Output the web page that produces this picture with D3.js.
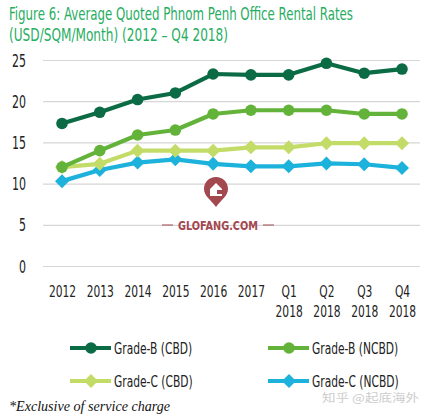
<!DOCTYPE html>
<html><head><meta charset="utf-8">
<script src="https://cdn.jsdelivr.net/npm/d3@7"></script>
<style>
body{margin:0;background:#fff;}
svg{display:block;}
</style></head>
<body>
<svg id="c" width="434" height="417"></svg>
<script>
const categories = ["2012","2013","2014","2015","2016","2017","Q1\n2018","Q2\n2018","Q3\n2018","Q4\n2018"];
const gradeBCBD  = [17.3,18.65,20.2,21.0,23.3,23.2,23.2,24.6,23.4,23.9];
const gradeBNCBD = [12.0,14.0,15.9,16.5,18.45,18.9,18.9,18.9,18.45,18.45];
const gradeCCBD  = [12.0,12.4,14.0,14.0,14.0,14.4,14.4,14.9,14.9,14.9];
const gradeCNCBD = [10.3,11.65,12.55,12.95,12.4,12.1,12.1,12.45,12.35,11.9];
const yTicks = [0,5,10,15,20,25];
const seriesNames = ["Grade-B (CBD)","Grade-B (NCBD)","Grade-C (CBD)","Grade-C (NCBD)"];

const series = [
  {name:seriesNames[0], values:gradeBCBD, color:"#0b6b45", shape:"circle"},
  {name:seriesNames[1], values:gradeBNCBD, color:"#63b33a", shape:"circle"},
  {name:seriesNames[2], values:gradeCCBD, color:"#c3dc68", shape:"diamond"},
  {name:seriesNames[3], values:gradeCNCBD, color:"#1cb2dc", shape:"diamond"}
];

const svg = d3.select("#c");
const cond = "'DejaVu Sans Condensed','Liberation Sans Narrow',sans-serif";
function squeeze(sel, f){
  sel.each(function(){
    const w = this.getComputedTextLength();
    d3.select(this).attr("textLength", w*f).attr("lengthAdjust","spacingAndGlyphs");
  });
}

// Title
const title = svg.append("text").attr("font-family",cond)
  .attr("font-size",18).attr("fill","#27ad62");
const t1 = title.append("tspan").attr("x",9).attr("y",19.5).text("Figure 6: Average Quoted Phnom Penh Office Rental Rates");
const t2 = title.append("tspan").attr("x",9).attr("y",41).text("(USD/SQM/Month) (2012 \u2013 Q4 2018)");
t1.attr("textLength",344).attr("lengthAdjust","spacingAndGlyphs");
t2.attr("textLength",219).attr("lengthAdjust","spacingAndGlyphs");

const x = d3.scalePoint().domain(categories).range([62,402]);
const y = d3.scaleLinear().domain([0,25]).range([266,60]);

// gridlines
const yAxis = d3.axisLeft(y).tickValues(yTicks).tickSize(-(420-43)).tickPadding(16);
const gy = svg.append("g").attr("transform","translate(43,0)").call(yAxis);
gy.select(".domain").remove();
gy.selectAll(".tick line").attr("stroke","#d6d6d6").attr("stroke-width",1.2);
gy.selectAll(".tick text").attr("font-family",cond).attr("font-size",17).attr("fill","#222")
  .attr("text-anchor","end").attr("x",-17).attr("dy","0.36em");
squeeze(gy.selectAll(".tick text"),0.72);

// x axis labels
const xAxis = d3.axisBottom(x).tickSize(0).tickFormat("");
const gx = svg.append("g").attr("transform","translate(0,266)").call(xAxis);
gx.select(".domain").remove();
gx.selectAll(".tick").each(function(d){
  const parts = d.split("\n");
  const t = d3.select(this).append("text").attr("font-family",cond).attr("font-size",16.5)
    .attr("fill","#222").attr("text-anchor","middle");
  parts.forEach((p,i)=>t.append("tspan").attr("x",0).attr("y",30.5+i*20).text(p));
});
squeeze(gx.selectAll("tspan"),0.72);

// watermark
const wm = svg.append("g").attr("transform","translate(216,0)");
wm.append("path").attr("d","M0,177 C-7,177 -12,182 -12,189 C-12,196 -5,200 0,207 C5,200 12,196 12,189 C12,182 7,177 0,177 Z").attr("fill","#a3484f");
wm.append("path").attr("d","M-6,189 L0,183 L6,189 L6,196 L-6,196 Z").attr("fill","#fff");
wm.append("path").attr("d","M1,190 L7,190 L7,194 L1,194 Z").attr("fill","#a3484f");
wm.append("text").attr("x",2).attr("y",230).attr("text-anchor","middle")
  .attr("font-family","'DejaVu Sans Condensed',sans-serif").attr("font-weight","bold")
  .attr("font-size",12.5).attr("fill","#a3484f").text("GLOFANG.COM")
  .attr("textLength",80).attr("lengthAdjust","spacingAndGlyphs");
wm.append("line").attr("x1",-54).attr("x2",-43).attr("y1",225).attr("y2",225).attr("stroke","#a3484f").attr("stroke-width",1);
wm.append("line").attr("x1",47).attr("x2",58).attr("y1",225).attr("y2",225).attr("stroke","#a3484f").attr("stroke-width",1);

// lines
const line = d3.line().x((d,i)=>x(categories[i])).y(d=>y(d));
const diamond = s=>`M0,${-s}L${s},0L0,${s}L${-s},0Z`;
function marker(g, shape, color, cx, cy){
  if(shape==="circle") g.append("circle").attr("cx",cx).attr("cy",cy).attr("r",5.8).attr("fill",color);
  else g.append("path").attr("d",diamond(7)).attr("transform",`translate(${cx},${cy})`).attr("fill",color);
}
[...series].reverse().forEach(s=>{
  const g = svg.append("g");
  g.append("path").datum(s.values).attr("d",line).attr("fill","none")
    .attr("stroke",s.color).attr("stroke-width",4.2).attr("stroke-linejoin","round");
  s.values.forEach((v,i)=>marker(g,s.shape,s.color,x(categories[i]),y(v)));
});

// legend
const legPos = [[70,348],[268,348],[70,381],[268,381]];
series.forEach((s,i)=>{
  const [lx,ly] = legPos[i];
  const g = svg.append("g");
  g.append("line").attr("x1",lx).attr("x2",lx+41).attr("y1",ly).attr("y2",ly)
    .attr("stroke",s.color).attr("stroke-width",4.2);
  marker(g,s.shape,s.color,lx+21,ly);
  const t = g.append("text").attr("x",lx+44).attr("y",ly+6).attr("font-family",cond)
    .attr("font-size",16.5).attr("fill","#222").text(s.name);
  squeeze(t,0.72);
});

// zhihu watermark
svg.append("text").attr("x",322).attr("y",402).attr("font-family","'Noto Sans CJK SC',sans-serif")
  .attr("font-size",11).attr("fill","#cdcdcd").text("知乎 @起底海外")
  .attr("textLength",97).attr("lengthAdjust","spacingAndGlyphs");

// footnote
svg.append("text").attr("x",9).attr("y",411).attr("font-family","'Liberation Serif','DejaVu Serif',serif")
  .attr("font-style","italic").attr("font-size",15).attr("fill","#111").text("*Exclusive of service charge")
  .attr("textLength",161).attr("lengthAdjust","spacingAndGlyphs");
</script>
</body></html>
